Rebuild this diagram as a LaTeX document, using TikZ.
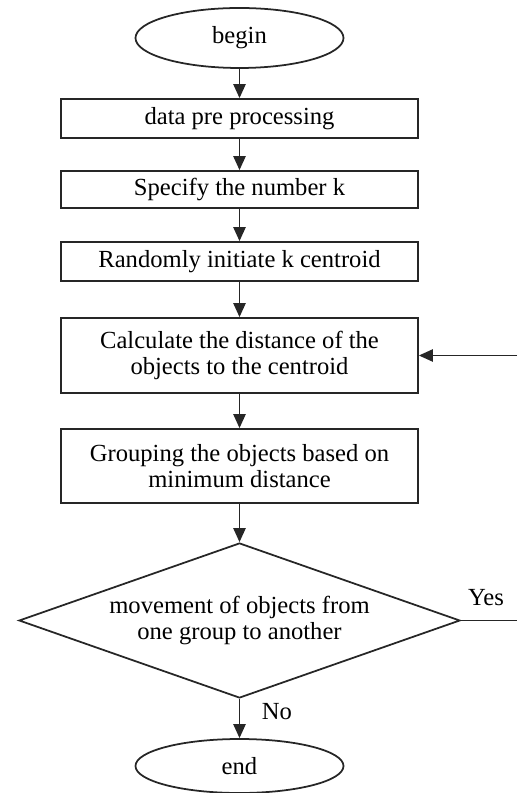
\documentclass[tikz,border=0pt]{standalone}
\usepackage{fontspec}
\setmainfont{Liberation Serif}
\usepackage{tikz}
\usetikzlibrary{arrows.meta,positioning,shapes.geometric}
\usepackage{xcolor}
\tikzset{
  stepbox/.style={draw=black!85, line width=1pt, minimum width=7.14cm, inner sep=0pt, align=center, font=\fontsize{14}{14.5}\selectfont},
  term/.style={draw=black!85, line width=1pt, ellipse, minimum width=4.16cm, inner sep=0pt, font=\fontsize{14}{14.5}\selectfont},
  decision/.style={draw=black!85, line width=1pt, diamond, aspect=2.85, minimum width=8.82cm, minimum height=3.1cm, inner sep=0pt, align=center, font=\fontsize{14}{14.5}\selectfont},
  flow/.style={draw=black!85, line width=1pt, -{Triangle[length=8pt,width=7pt]}},
  lab/.style={font=\fontsize{14}{14.5}\selectfont}
}
\begin{document}
\begin{tikzpicture}[x=1cm,y=1cm]
\useasboundingbox (0,0) rectangle (10.34,-15.86);

% start and the straight steps
\node[term, minimum height=1.2cm] (begin) at (4.79,-0.76) {begin};
\node[stepbox, minimum height=0.78cm] (prep) at (4.79,-2.37) {data pre processing};
\node[stepbox, minimum height=0.74cm] (numk) at (4.79,-3.79) {Specify the number k};
\node[stepbox, minimum height=0.78cm] (init) at (4.79,-5.23) {Randomly initiate k centroid};
\node[stepbox, minimum height=1.5cm] (dist) at (4.79,-7.11) {Calculate the distance of the\\objects to the centroid};
\node[stepbox, minimum height=1.48cm] (group) at (4.79,-9.32) {Grouping the objects based on\\minimum distance};

% test and end
\node[decision] (move) at (4.79,-12.41) {movement of objects from\\one group to another};
\node[term, minimum height=1.08cm] (end) at (4.79,-15.32) {end};

\draw[flow] (begin) -- (prep);
\draw[flow] (prep) -- (numk);
\draw[flow] (numk) -- (init);
\draw[flow] (init) -- (dist);
\draw[flow] (dist) -- (group);
\draw[flow] (group) -- (move);
\draw[flow] (move) -- (end);

% loop back (cut at the right edge)
\coordinate (yesend) at (10.34,-12.41);
\coordinate (loopin) at (10.34,-7.11);
\draw[draw=black!85, line width=1pt] (move.east) -- (yesend);
\draw[flow] (loopin) -- (dist.east);

\node[lab] (yes) at (9.72,-11.96) {Yes};
\node[lab] (no) at (5.54,-14.24) {No};
\end{tikzpicture}
\end{document}
